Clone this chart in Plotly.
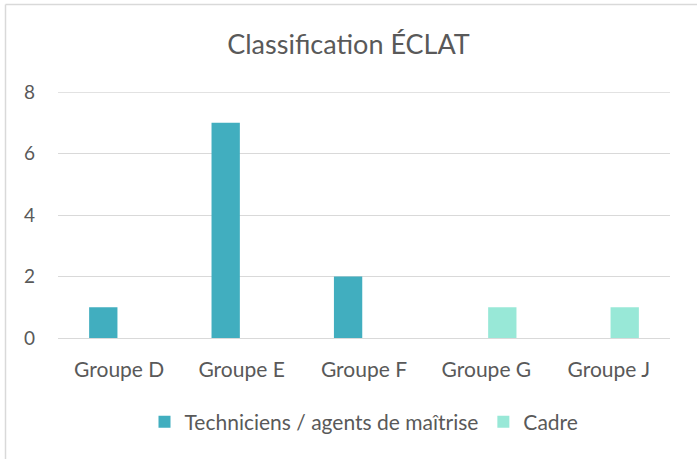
import plotly.graph_objects as go

categories = ["Groupe D", "Groupe E", "Groupe F", "Groupe G", "Groupe J"]
techniciens = [1, 7, 2, 0, 0]
cadre = [0, 0, 0, 1, 1]
series_names = ["Techniciens / agents de maîtrise", "Cadre"]
y_ticks = [0, 2, 4, 6, 8]

FONT = "Lato"
TXT = "#595959"
BORDER = "#D9D9D9"

fig = go.Figure()
fig.add_trace(go.Bar(x=categories, y=techniciens, name=series_names[0],
                     marker=dict(color="#41AEBF", line=dict(width=0))))
fig.add_trace(go.Bar(x=categories, y=cadre, name=series_names[1],
                     marker=dict(color="#98E8D7", line=dict(width=0))))

PW, PH = 612, 246  # plot area size in px
def px(x):
    return (x - 58) / PW
def py(y):
    return (338 - y) / PH

fig.update_layout(
    width=697, height=459,
    margin=dict(l=58, r=27, t=92, b=121),
    paper_bgcolor="white", plot_bgcolor="white",
    barmode="group", bargap=0.48, bargroupgap=0.11,
    title=dict(text="Classification ÉCLAT", x=0.5, xanchor="center",
               y=1 - 45 / 459, yanchor="middle",
               font=dict(family=FONT, size=27, color=TXT)),
    font=dict(family=FONT, size=20, color=TXT),
    showlegend=True,
    legend=dict(orientation="h", x=0.5, xanchor="center",
                y=py(422), yanchor="middle",
                font=dict(family=FONT, size=21, color=TXT),
                itemwidth=30, traceorder="normal"),
    xaxis=dict(showgrid=False, showline=False, zeroline=False,
               tickfont=dict(family=FONT, size=21, color=TXT),
               ticks="", ticklabelstandoff=17),
    yaxis=dict(range=[0, 8], tickvals=y_ticks, showgrid=True,
               gridcolor=BORDER, gridwidth=1.3, zeroline=True,
               zerolinecolor=BORDER, zerolinewidth=1.3, showline=False,
               tickfont=dict(family=FONT, size=19, color=TXT),
               ticks="", ticklabelstandoff=22),
    shapes=[
        dict(type="line", xref="paper", yref="paper",
             x0=px(5.5), x1=px(700), y0=py(4.5), y1=py(4.5),
             line=dict(color=BORDER, width=1.5)),
        dict(type="line", xref="paper", yref="paper",
             x0=px(5.5), x1=px(5.5), y0=py(4.5), y1=py(470),
             line=dict(color=BORDER, width=1.5)),
        dict(type="line", xref="paper", yref="y", x0=0, x1=1, y0=8, y1=8,
             line=dict(color=BORDER, width=1.3), layer="below"),
    ],
)

fig.write_html("out.html", config={"displayModeBar": False},
               post_script="document.body.style.margin='0px';document.body.style.overflow='hidden';")
